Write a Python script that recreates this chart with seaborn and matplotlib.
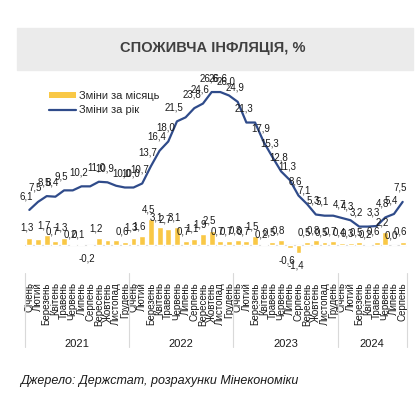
import numpy as np
import pandas as pd
import matplotlib
matplotlib.use('Agg')
import matplotlib.pyplot as plt
import seaborn as sns
from matplotlib.patches import Patch, Rectangle
from matplotlib.lines import Line2D
from matplotlib import transforms

# Monthly data, Jan 2021 - Aug 2024
months = ['Січень', 'Лютий', 'Березень', 'Квітень', 'Травень', 'Червень',
          'Липень', 'Серпень', 'Вересень', 'Жовтень', 'Листопад', 'Грудень']
years = ['2021', '2022', '2023', '2024']
months_per_year = [12, 12, 12, 8]

mom = [1.3, 1.0, 1.7, 0.7, 1.3, 0.2, 0.1, -0.2, 1.2, 0.9, 0.8, 0.6,
       1.3, 1.6, 4.5, 3.1, 2.7, 3.1, 0.7, 1.1, 1.9, 2.5, 0.7, 0.7,
       0.8, 0.7, 1.5, 0.2, 0.5, 0.8, -0.6, -1.4, 0.5, 0.8, 0.5, 0.7,
       0.4, 0.3, 0.5, 0.2, 0.6, 2.2, 0.0, 0.6]
yoy = [6.1, 7.5, 8.5, 8.4, 9.5, 9.5, 10.2, 10.2, 11.0, 10.9, 10.3, 10.0,
       10.0, 10.7, 13.7, 16.4, 18.0, 21.5, 22.2, 23.8, 24.6, 26.6, 26.6, 26.0,
       24.9, 21.3, 21.3, 17.9, 15.3, 12.8, 11.3, 8.6, 7.1, 5.3, 5.1, 5.1,
       4.7, 4.3, 3.2, 3.2, 3.3, 4.8, 5.4, 7.5]

# labels that are not shown in the original (overlapping ones)
hide_mom = [1, 9, 10]
hide_yoy = [5, 7, 10, 18, 26, 35, 39]

month_labels = []
for n in months_per_year:
    month_labels += months[:n]

df = pd.DataFrame({'idx': range(len(mom)), 'mom': mom, 'yoy': yoy})

BAR = '#F9C846'
LINE = '#2F4B8A'
GRID = '#D9D9D9'

sns.set_style('white')
plt.rcParams['font.family'] = ['Liberation Sans', 'DejaVu Sans']

fig = plt.figure(figsize=(4.2, 3.99), dpi=100)
W, H = 420, 399

# title banner
fig.patches.append(Rectangle((17 / W, 1 - 70 / H), 396 / W, 42 / H,
                             transform=fig.transFigure, color='#EBEBEB', zorder=0))
fig.text(213 / W, 1 - 48 / H, 'СПОЖИВЧА ІНФЛЯЦІЯ, %', ha='center', va='center',
         fontsize=10.5, fontweight='bold', color='#404040')

ymin, ymax = -3.5, 30
ppu = 5.75  # pixels per unit
y0 = 245
bottom_px = y0 - ymin * ppu
top_px = y0 - ymax * ppu
ax = fig.add_axes([25 / W, 1 - bottom_px / H, 382 / W, (bottom_px - top_px) / H])
ax.patch.set_alpha(0)

sns.barplot(data=df, x='idx', y='mom', color=BAR, saturation=1, width=0.68, ax=ax, zorder=2)
sns.lineplot(data=df, x='idx', y='yoy', color=LINE, linewidth=1.6, ax=ax, zorder=3)

ax.axhline(0, color=GRID, linewidth=0.8, zorder=1)
ax.set_xlim(-0.5, len(mom) - 0.5)
ax.set_ylim(ymin, ymax)
ax.set_yticks([])
ax.set_xlabel('')
ax.set_ylabel('')
for s in ax.spines.values():
    s.set_visible(False)

ax.set_xticks(range(len(mom)))
ax.set_xticklabels(month_labels, rotation=90, fontsize=7, color='#1a1a1a')
ax.tick_params(axis='x', length=0, pad=12.5)

# data labels
fmt = lambda v: f'{v:.1f}'.replace('.', ',')
for i, v in enumerate(yoy):
    if i in hide_yoy:
        continue
    ax.annotate(fmt(v), (i, v), xytext=(-2, 10), textcoords='offset points',
                ha='center', va='center', fontsize=7, color='#1a1a1a', zorder=4)
for i, v in enumerate(mom):
    if i in hide_mom:
        continue
    off = 7 if v >= 0 else -9
    ax.annotate(fmt(v), (i, v), xytext=(-2, off), textcoords='offset points',
                ha='center', va='center', fontsize=7, color='#1a1a1a', zorder=4)

# year separators and labels
trans = transforms.blended_transform_factory(ax.transData, fig.transFigure)
edges = np.concatenate([[0], np.cumsum(months_per_year)]) - 0.5
for e in edges:
    ax.add_line(Line2D([e, e], [1 - 273 / H, 1 - 347 / H], transform=trans,
                       color=GRID, linewidth=0.8, clip_on=False))
for yr, a, b in zip(years, edges[:-1], edges[1:]):
    ax.text((a + b) / 2, 1 - 344 / H, yr, transform=trans, ha='center', va='center',
            fontsize=8, color='#1a1a1a')

# legend
handles = [Patch(facecolor=BAR, edgecolor='none', label='Зміни за місяць'),
           Line2D([0], [0], color=LINE, linewidth=1.6, label='Зміни за рік')]
fig.legend(handles=handles, loc='upper left', bbox_to_anchor=(49 / W, 1 - 91 / H),
           frameon=False, fontsize=8, handlelength=2.4, handleheight=0.5,
           handletextpad=0.3, labelspacing=0.4, borderaxespad=0, borderpad=0)

fig.text(20 / W, 1 - 381 / H, 'Джерело: Держстат, розрахунки Мінекономіки',
         ha='left', va='center', fontsize=9, style='italic', color='#1a1a1a')

fig.savefig('out.png', dpi=100)
plt.close(fig)
